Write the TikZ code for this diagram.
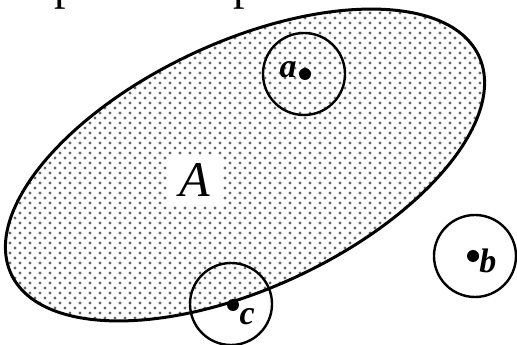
\documentclass[tikz,border=0pt]{standalone}
\usepackage{fontspec}
\setmainfont{Liberation Serif}
\usetikzlibrary{positioning}

\begin{document}
\begin{tikzpicture}
 [x=1pt, y=1pt,
  speck/.style={fill=black!60},
  ring/.style={circle, draw, line width=2.4pt, minimum size=82pt, inner sep=0pt},
  point/.style={circle, fill=black, minimum size=12pt, inner sep=0pt},
  pname/.style={font=\fontsize{34}{36}\selectfont\bfseries\itshape, inner sep=1pt},
  setname/.style={fill=white, minimum width=55pt, minimum height=50pt, font=\fontsize{50}{52}\selectfont\itshape},
  cut/.style={anchor=base west, inner sep=0pt, font=\fontsize{46}{48}\selectfont}]

\clip (0,0) rectangle (517,345);

% remains of the line above
\node[cut] (p1) at (54,345.5) {p};
\node[cut] (p2) at (233,345.5) {p};

% the set A, dotted
\begin{scope}
  \clip[rotate around={25:(245,180)}] (245,180) ellipse [x radius=258, y radius=123];
  \foreach \row in {0,...,69} {
    \foreach \col in {0,...,52} {
      \fill[speck] ({\col*10+mod(\row,2)*5},{\row*5+2}) circle (1.6);
    }
  }
\end{scope}
\draw[line width=3pt, rotate around={25:(245,180)}] (245,180) ellipse [x radius=258, y radius=123];

\node[setname] (A) at (195,165) {A};

\node[ring] (ra) at (304,271) {};
\node[ring] (rb) at (475,89) {};
\node[ring] (rc) at (231,41) {};

\node[point] (a) at (305,271) {};
\node[point] (b) at (473,89) {};
\node[point] (c) at (233,40) {};

\node[pname] (la) [left=1pt of a, yshift=4pt] {a};
\node[pname] (lb) [right=-1pt of b, yshift=-5pt] {b};
\node[pname] (lc) [below right=-2pt and 1pt of c] {c};

\end{tikzpicture}
\end{document}
